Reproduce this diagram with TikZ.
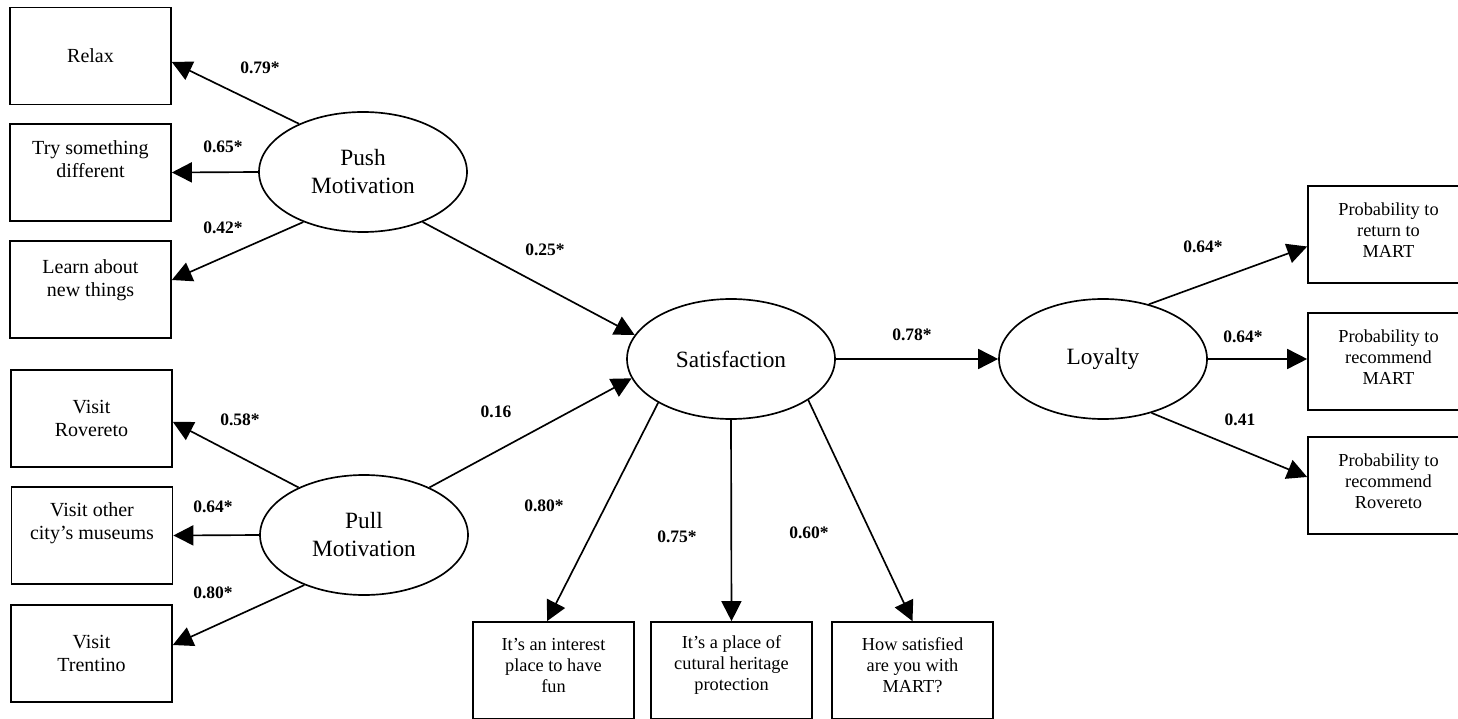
\documentclass[tikz,border=0pt]{standalone}
\usepackage{fontspec}
\setmainfont{Liberation Serif}
\usetikzlibrary{shapes.geometric,arrows.meta}

\tikzstyle{item}=[draw=black,line width=1pt,rectangle,minimum width=96.6pt,minimum height=58.2pt,inner sep=2pt,align=center,font=\fontsize{12}{13.8}\selectfont]
\tikzstyle{smallitem}=[item,font=\fontsize{11}{12.6}\selectfont]
\tikzstyle{factor}=[draw=black,line width=1pt,ellipse,minimum width=124.8pt,minimum height=72pt,inner sep=0pt,align=center,font=\fontsize{14}{16.8}\selectfont]
\tikzstyle{load}=[line width=1pt,-{Triangle[length=12pt,width=12pt]}]
\tikzstyle{coef}=[inner sep=1pt,font=\bfseries\fontsize{10.5}{12}\selectfont]

\begin{document}
\begin{tikzpicture}[x=0.6pt,y=-0.6pt]
	\useasboundingbox (0,0) rectangle (1458,719);
	%factors
	\node[factor] (push) at (363,172) {Push\\Motivation};
	\node[factor] (pull) at (364,535) {Pull\\Motivation};
	\node[factor] (sat) at (731,359) {Satisfaction};
	\node[factor] (loy) at (1103,359) {Loyalty};
	%push items
	\node[item] (relax) at (90.5,56) {Relax};
	\node[item] (try) at (90.5,172.5) {Try something\\different\\[1.8pt]};
	\node[item] (learn) at (90.5,289.5) {Learn about\\new things\\[0pt]};
	%pull items
	\node[item] (rov) at (91.5,418.5) {Visit\\Rovereto};
	\node[item] (other) at (92,535.5) {Visit other\\city’s museums\\[3.6pt]};
	\node[item] (trent) at (91.5,653.5) {Visit\\Trentino};
	%satisfaction items
	\node[smallitem] (fun) at (553.5,670.5) {It’s an interest\\place to have\\fun\\[-6.6pt]};
	\node[smallitem] (herit) at (731.5,670.5) {It’s a place of\\cutural heritage\\protection\\[-4.2pt]};
	\node[smallitem] (mart) at (912.5,670.5) {How satisfied\\are you with\\MART?\\[-6.6pt]};
	%loyalty items
	\node[smallitem] (ret) at (1388.5,234.5) {Probability to\\return to\\MART\\[-7.8pt]};
	\node[smallitem] (recm) at (1388.5,361.5) {Probability to\\recommend\\MART\\[-7.8pt]};
	\node[smallitem] (recr) at (1388.5,485.5) {Probability to\\recommend\\Rovereto\\[-7.8pt]};
	%paths
	\draw[load] (push.143.6) -- ([yshift=-3.6pt]relax.east);
	\draw[load] (push.west) -- (try.east);
	\draw[load] (push.220) -- ([yshift=5.7pt]learn.east);
	\draw[load] (push.320) -- (sat.166.5);
	\draw[load] (pull.144.5) -- ([yshift=-2pt]rov.east);
	\draw[load] (pull.west) -- (other.east);
	\draw[load] (pull.220.8) -- ([yshift=5.1pt]trent.east);
	\draw[load] (pull.36) -- (sat.191.4);
	\draw[load] (sat.211.6) -- ([xshift=-3.9pt]fun.north);
	\draw[load] (sat.south) -- (herit.north);
	\draw[load] (sat.332) -- (mart.north);
	\draw[load] (sat.east) -- (loy.west);
	\draw[load] (loy.50) -- ([yshift=-7.2pt]ret.west);
	\draw[load] (loy.east) -- (loy.east -| recm.west);
	\draw[load] (loy.312) -- ([yshift=5.1pt]recr.west);
	%coefficients
	\foreach \n/\x/\y/\t in {
		w79/260/68/0.79*,
		w65/223/147/0.65*,
		w42/223/228/0.42*,
		w25/545/250/0.25*,
		w58/240/420/0.58*,
		w64a/213/507/0.64*,
		w80a/213/593/0.80*,
		w16/496/412/0.16,
		w80b/544/506/0.80*,
		w75/677/537/0.75*,
		w60/809/533/0.60*,
		w78/912/335/0.78*,
		w64b/1203/247/0.64*,
		w64c/1243/337/0.64*,
		w41/1240/420/0.41
	}
	\node[coef] (\n) at (\x,\y) {\t};
\end{tikzpicture}
\end{document}
